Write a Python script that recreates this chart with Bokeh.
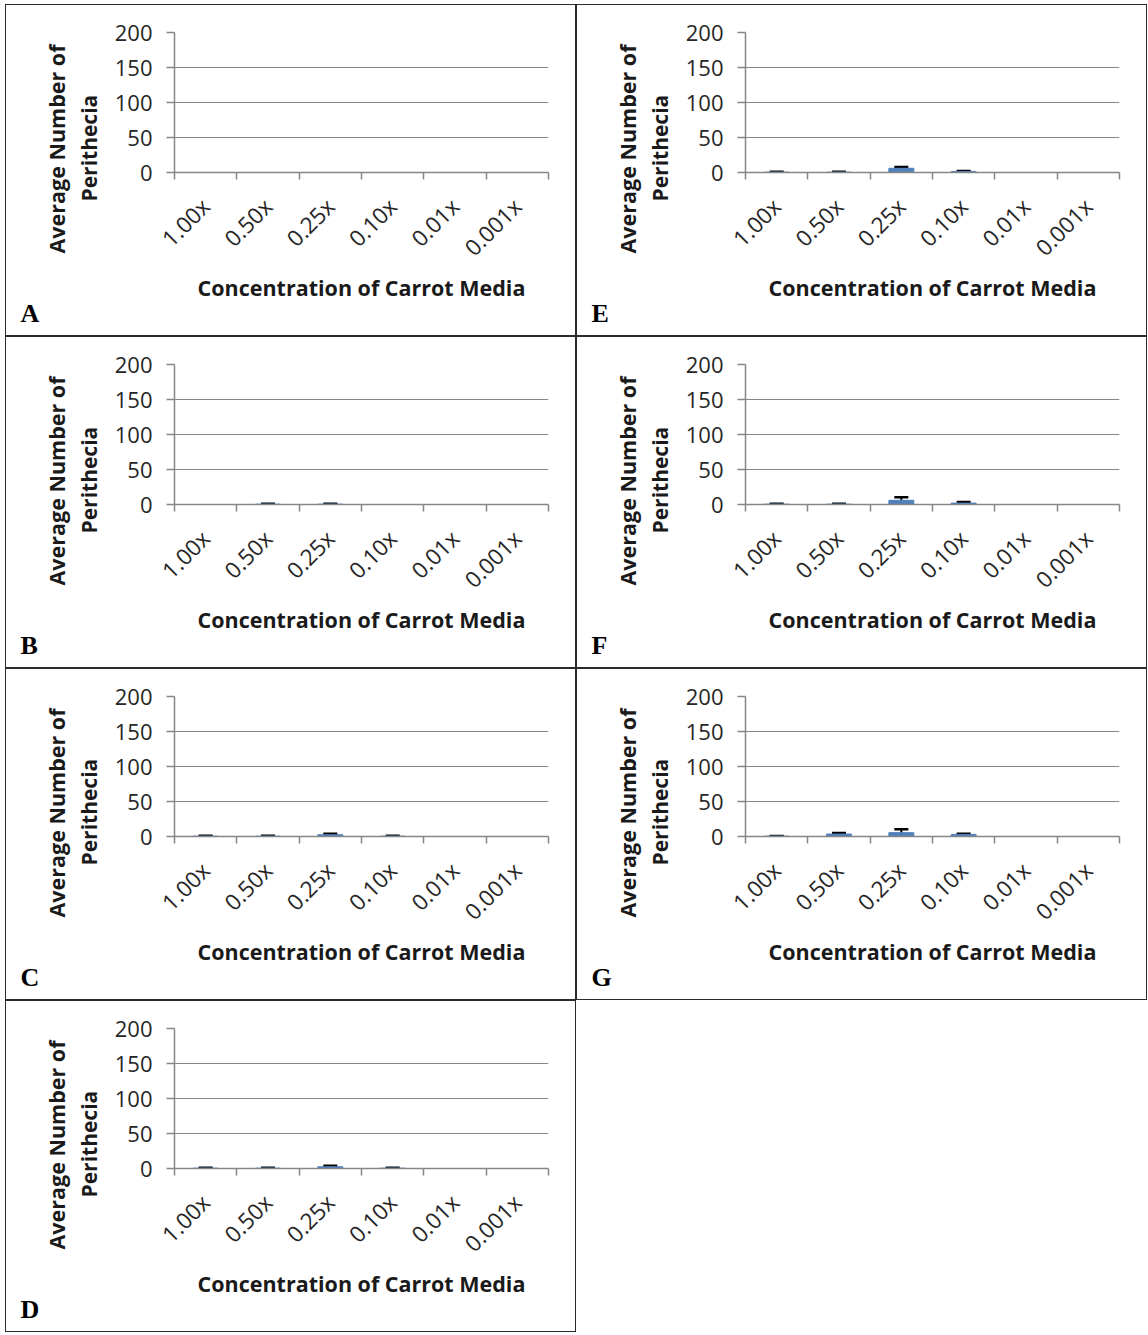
import math
from bokeh.plotting import figure
from bokeh.layouts import gridplot
from bokeh.models import FixedTicker, Whisker, TeeHead, Title, ColumnDataSource, Range1d
from bokeh.embed import file_html
from bokeh.resources import INLINE

# ---- data ----
categories = ["1.00x", "0.50x", "0.25x", "0.10x", "0.01x", "0.001x"]
y_ticks = [0, 50, 100, 150, 200]
panel_letters = ["A", "B", "C", "D", "E", "F", "G"]

vals_A = [0, 0, 0, 0, 0, 0]
err_A = [0, 0, 0, 0, 0, 0]
vals_B = [0, 0.5, 0.5, 0, 0, 0]
err_B = [0, 0.5, 0.5, 0, 0, 0]
vals_C = [0.5, 0.5, 2.5, 0.5, 0, 0]
err_C = [0.5, 0.5, 1.5, 0.5, 0, 0]
vals_D = [0.5, 0.5, 2.5, 0.5, 0, 0]
err_D = [0.5, 0.5, 1.5, 0.5, 0, 0]
vals_E = [0.5, 0.5, 6.0, 1.5, 0, 0]
err_E = [0.5, 0.5, 2.0, 0.5, 0, 0]
vals_F = [0.5, 0.5, 6.0, 2.0, 0, 0]
err_F = [0.5, 0.5, 4.5, 1.5, 0, 0]
vals_G = [0.5, 3.5, 5.5, 3.0, 0, 0]
err_G = [0.3, 1.5, 5.0, 1.0, 0, 0]

panel_data = {
    "A": (vals_A, err_A), "B": (vals_B, err_B), "C": (vals_C, err_C),
    "D": (vals_D, err_D), "E": (vals_E, err_E), "F": (vals_F, err_F),
    "G": (vals_G, err_G),
}

FONT = "Open Sans"
GRAY = "#868686"
BAR = "#4f81bd"
TXT = "#1a1a1a"

PW, PH = 571, 332
LEFT, RIGHT, TOP, BOTTOM = 168, 29, 27, 165


def make_panel(letter):
    vals, errs = panel_data[letter]
    p = figure(width=PW, height=PH, output_backend="svg", toolbar_location=None,
               x_range=Range1d(0, len(categories)), y_range=Range1d(0, 200),
               min_border_left=LEFT, min_border_right=RIGHT,
               min_border_top=TOP, min_border_bottom=BOTTOM)
    p.styles = {"border": "1px solid #2a2a2a"}
    p.outline_line_color = None
    p.background_fill_color = "white"
    p.border_fill_color = "white"

    xs = [i + 0.5 for i in range(len(categories))]
    src = ColumnDataSource(dict(x=xs, top=vals))
    p.vbar(x="x", top="top", bottom=0, width=0.4, source=src,
           fill_color=BAR, line_color=BAR)
    keep = [i for i in range(len(vals)) if vals[i] > 0 or errs[i] > 0]
    if keep:
        wsrc = ColumnDataSource(dict(
            x=[xs[i] for i in keep],
            upper=[vals[i] + errs[i] for i in keep],
            lower=[max(vals[i] - errs[i], 0) for i in keep]))
        w = Whisker(base="x", upper="upper", lower="lower", source=wsrc,
                    line_color="black", line_width=2,
                    upper_head=TeeHead(size=14, line_color="black", line_width=2.5),
                    lower_head=TeeHead(size=14, line_color="black", line_width=2.5))
        p.add_layout(w)

    # x axis
    xa = p.xaxis[0]
    xa.ticker = FixedTicker(ticks=xs, minor_ticks=list(range(len(categories) + 1)))
    xa.major_label_overrides = {x: c for x, c in zip(xs, categories)}
    xa.major_label_orientation = math.pi / 4
    xa.major_tick_out = 0
    xa.major_tick_in = 0
    xa.minor_tick_out = 7
    xa.minor_tick_in = 0
    xa.minor_tick_line_color = GRAY
    xa.minor_tick_line_width = 1.5
    xa.axis_line_color = GRAY
    xa.axis_line_width = 1.5
    xa.major_label_text_font = FONT
    xa.major_label_text_font_size = "22.5px"
    xa.major_label_text_color = "#262626"
    xa.major_label_standoff = 23
    xa.axis_label = "Concentration of Carrot Media"
    xa.axis_label_text_font = FONT
    xa.axis_label_text_font_style = "bold"
    xa.axis_label_text_font_size = "21.5px"
    xa.axis_label_text_color = TXT
    xa.axis_label_standoff = -3

    # y axis
    ya = p.yaxis[0]
    ya.ticker = FixedTicker(ticks=y_ticks, minor_ticks=[])
    ya.major_tick_out = 8
    ya.major_tick_in = 0
    ya.major_tick_line_color = GRAY
    ya.major_tick_line_width = 1.5
    ya.axis_line_color = GRAY
    ya.axis_line_width = 1.5
    ya.major_label_text_font = FONT
    ya.major_label_text_font_size = "22px"
    ya.major_label_text_color = "#262626"
    ya.major_label_standoff = 14

    p.xgrid.grid_line_color = None
    p.ygrid.ticker = FixedTicker(ticks=y_ticks)
    p.ygrid.grid_line_color = GRAY
    p.ygrid.grid_line_width = 1.2

    # two-line y-axis title (inner line first)
    p.add_layout(Title(text="Perithecia", align="left", offset=-29, standoff=18,
                       text_font=FONT, text_font_style="bold", text_font_size="21px",
                       text_color=TXT), "left")
    p.add_layout(Title(text="Average Number of", align="left", offset=-81, standoff=-15,
                       text_font=FONT, text_font_style="bold", text_font_size="21.5px",
                       text_color=TXT), "left")
    # panel letter
    p.add_layout(Title(text=letter, align="left", offset=-154, standoff=-16,
                       vertical_align="middle",
                       text_font="Liberation Serif", text_font_style="bold",
                       text_font_size="26px", text_color="black"), "below")
    return p


figs = {l: make_panel(l) for l in panel_letters}
grid = gridplot([[figs["A"], figs["E"]], [figs["B"], figs["F"]],
                 [figs["C"], figs["G"]], [figs["D"], None]],
                toolbar_location=None)
grid.styles = {"margin-left": "5px", "margin-top": "4px"}

open("out.html", "w").write(file_html(grid, INLINE))
